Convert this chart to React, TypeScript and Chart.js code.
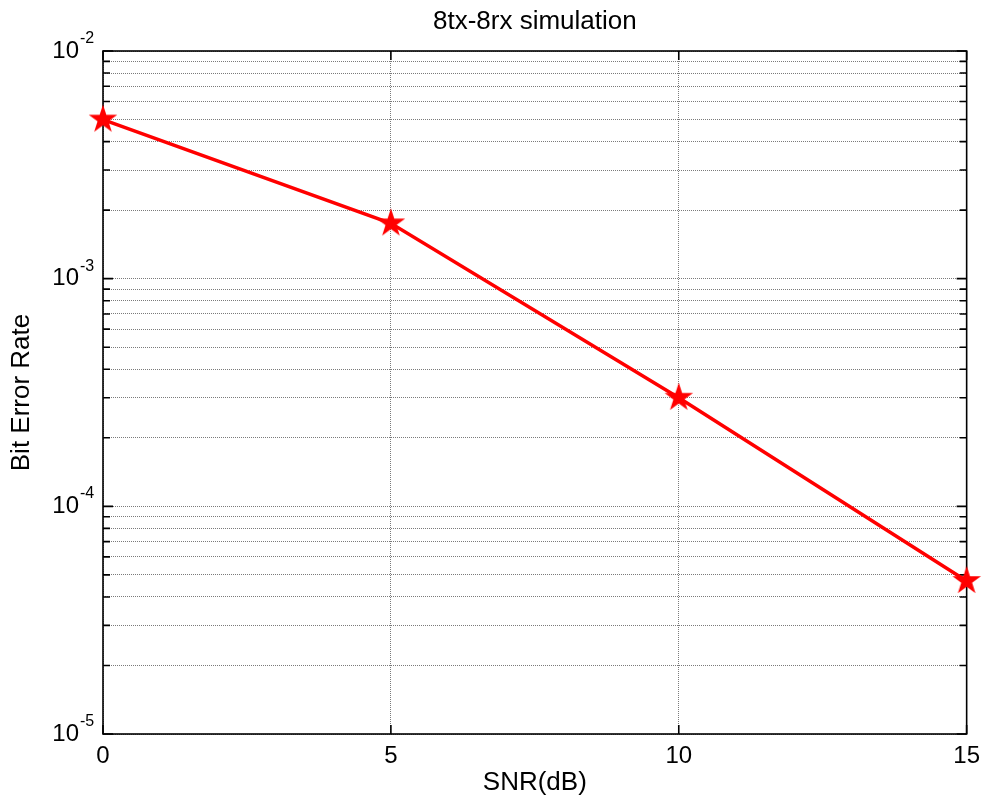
import React, { useEffect, useRef } from "react";
import { Chart, registerables } from "chart.js";

Chart.register(...registerables);

// ---- data ----
const snrValues = [0, 5, 10, 15];
const berValues = [5.0e-3, 1.75e-3, 3.0e-4, 4.7e-5];
const xTickValues = [0, 5, 10, 15];
const yTickValues = [
  1e-5, 2e-5, 3e-5, 4e-5, 5e-5, 6e-5, 7e-5, 8e-5, 9e-5,
  1e-4, 2e-4, 3e-4, 4e-4, 5e-4, 6e-4, 7e-4, 8e-4, 9e-4,
  1e-3, 2e-3, 3e-3, 4e-3, 5e-3, 6e-3, 7e-3, 8e-3, 9e-3,
  1e-2,
];
const chartTitle = "8tx-8rx simulation";
const xAxisTitle = "SNR(dB)";
const yAxisTitle = "Bit Error Rate";

const FONT = '"Liberation Sans", Arial, Helvetica, sans-serif';
const BIG = 24;
const TITLE = 26;
const SMALL = 16;

function isPow10(v: number) {
  const l = Math.log10(v);
  return Math.abs(l - Math.round(l)) < 1e-9;
}

function makeStar(R: number, color: string) {
  const size = Math.ceil(R * 2 + 2);
  const c = document.createElement("canvas");
  c.width = size;
  c.height = size;
  const ctx = c.getContext("2d")!;
  const cx = size / 2;
  const cy = size / 2;
  const r = R * 0.382;
  ctx.beginPath();
  for (let i = 0; i < 10; i++) {
    const ang = -Math.PI / 2 + (i * Math.PI) / 5;
    const rad = i % 2 === 0 ? R : r;
    ctx.lineTo(cx + rad * Math.cos(ang), cy + rad * Math.sin(ang));
  }
  ctx.closePath();
  ctx.fillStyle = color;
  ctx.fill();
  return c;
}

const framePlugin = {
  id: "matlabFrame",
  beforeDatasetsDraw(chart: any) {
    const { ctx, chartArea } = chart;
    const { left, right, top, bottom } = chartArea;
    const xs = chart.scales.x;
    const ys = chart.scales.y;
    ctx.save();
    ctx.strokeStyle = "#000";
    ctx.lineWidth = 1.6;
    ctx.setLineDash([]);
    ctx.strokeRect(left, top, right - left, bottom - top);
    ctx.lineWidth = 1.6;
    ctx.beginPath();
    for (const t of ys.ticks) {
      const py = ys.getPixelForValue(t.value);
      const len = isPow10(t.value) ? 10 : 7;
      ctx.moveTo(left, py);
      ctx.lineTo(left + len, py);
      ctx.moveTo(right, py);
      ctx.lineTo(right - len, py);
    }
    for (const t of xs.ticks) {
      const px = xs.getPixelForValue(t.value);
      ctx.moveTo(px, bottom);
      ctx.lineTo(px, bottom - 9);
      ctx.moveTo(px, top);
      ctx.lineTo(px, top + 9);
    }
    ctx.stroke();
    ctx.restore();
  },
  afterDraw(chart: any) {
    const { ctx, chartArea } = chart;
    const ys = chart.scales.y;
    ctx.save();
    const xRight = chartArea.left - 24;
    ctx.font = `${SMALL}px ${FONT}`;
    ctx.fillStyle = "#000";
    ctx.textAlign = "left";
    ctx.textBaseline = "alphabetic";
    for (const t of ys.ticks) {
      if (!isPow10(t.value)) continue;
      const py = ys.getPixelForValue(t.value);
      const e = Math.round(Math.log10(t.value));
      ctx.fillText(String(e), xRight + 1, py - 8);
    }
    ctx.restore();
  },
};

export default function App() {
  const ref = useRef<HTMLCanvasElement | null>(null);

  useEffect(() => {
    if (!ref.current) return;
    const star = makeStar(15, "#ff0000");
    const chart = new Chart(ref.current, {
      type: "line",
      data: {
        datasets: [
          {
            data: snrValues.map((x, i) => ({ x, y: berValues[i] })),
            borderColor: "#ff0000",
            backgroundColor: "#ff0000",
            borderWidth: 3.5,
            pointStyle: star as any,
            pointRadius: 15,
            tension: 0,
            clip: false as any,
          },
        ],
      },
      options: {
        animation: false,
        responsive: false,
        maintainAspectRatio: false,
        layout: { padding: { left: 0, right: 18, top: 0, bottom: 0 } },
        plugins: {
          legend: { display: false },
          tooltip: { enabled: false },
          title: {
            display: true,
            fullSize: false,
            text: chartTitle,
            color: "#000",
            font: { family: FONT, size: TITLE, weight: "normal" as any },
            padding: { top: 6.4, bottom: 13.4 },
          },
        },
        scales: {
          x: {
            type: "linear",
            min: 0,
            max: 15,
            afterBuildTicks: (s: any) => {
              s.ticks = xTickValues.map((v) => ({ value: v }));
            },
            afterFit: (s: any) => {
              s.height = 71;
            },
            grid: { color: "#7a7a7a", lineWidth: 1, drawTicks: false },
            border: { display: false, dash: [1, 1] },
            ticks: {
              color: "#000",
              font: { family: FONT, size: BIG },
              padding: 8,
              maxRotation: 0,
              autoSkip: false,
              callback: (v: any) => String(v),
            },
            title: {
              display: true,
              text: xAxisTitle,
              color: "#000",
              font: { family: FONT, size: TITLE },
              padding: { top: 0, bottom: 6.4 },
            },
          },
          y: {
            type: "logarithmic",
            min: 1e-5,
            max: 1e-2,
            afterBuildTicks: (s: any) => {
              s.ticks = yTickValues.map((v) => ({ value: v, major: isPow10(v) }));
            },
            afterFit: (s: any) => {
              s.width = 103;
            },
            grid: { color: "#7a7a7a", lineWidth: 1, drawTicks: false },
            border: { display: false, dash: [1, 1] },
            ticks: {
              color: "#000",
              font: { family: FONT, size: BIG },
              padding: 24,
              autoSkip: false,
              callback: (v: any) => (isPow10(Number(v)) ? "10" : ""),
            },
            title: {
              display: true,
              text: yAxisTitle,
              color: "#000",
              font: { family: FONT, size: TITLE },
              padding: { top: 6.4, bottom: 0 },
            },
          },
        },
      },
      plugins: [framePlugin],
    });
    return () => chart.destroy();
  }, []);

  return (
    <div style={{ position: "absolute", left: 0, top: 0, width: 988, height: 805, background: "#fff" }}>
      <canvas ref={ref} width={988} height={805} style={{ display: "block" }} />
    </div>
  );
}
